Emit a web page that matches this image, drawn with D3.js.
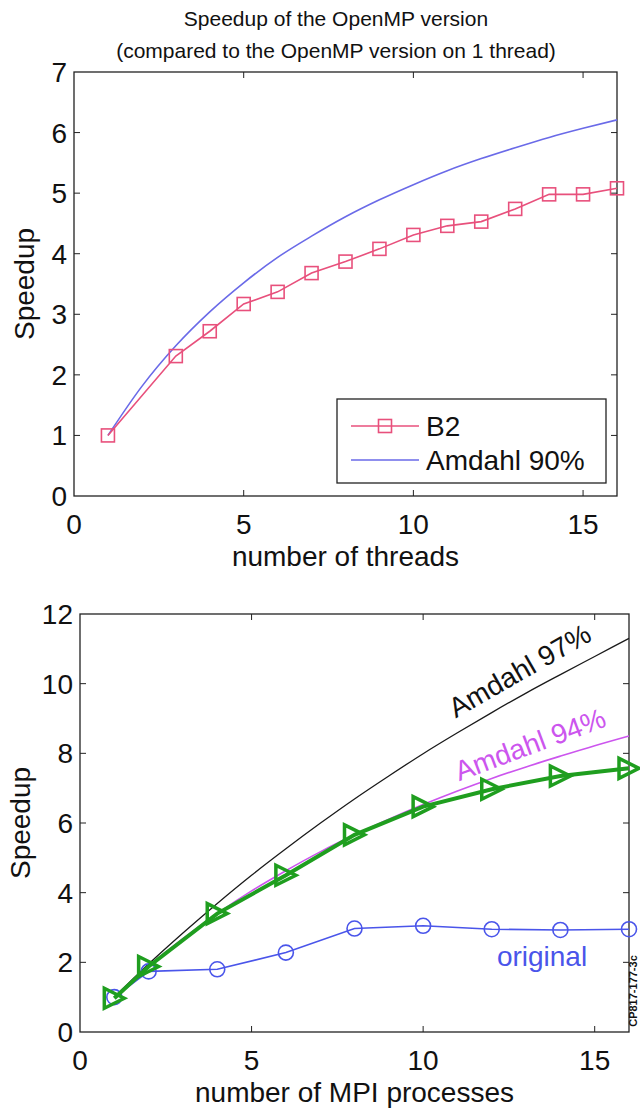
<!DOCTYPE html>
<html>
<head>
<meta charset="utf-8">
<script src="https://cdn.jsdelivr.net/npm/d3@7"></script>
<style>
  body { margin: 0; background: #fff; }
  svg { display: block; font-family: "Liberation Sans", Arial, sans-serif; }
  .frame { fill: none; stroke: #222; stroke-width: 1.3; }
  .tick-mark { stroke: #222; stroke-width: 1; }
</style>
</head>
<body>
<svg id="chart" width="640" height="1111" viewBox="0 0 640 1111"></svg>
<script>
// ---- top panel: OpenMP ----
const ompThreads = [1, 3, 4, 5, 6, 7, 8, 9, 10, 11, 12, 13, 14, 15, 16];
const ompB2 = [1.0, 2.31, 2.72, 3.17, 3.37, 3.68, 3.87, 4.08, 4.31, 4.46, 4.53, 4.74, 4.98, 4.98, 5.08];
const amdahl90N = [1, 2, 3, 4, 5, 6, 7, 8, 9, 10, 11, 12, 13, 14, 15, 16];
const amdahl90 = [1.0, 1.81, 2.48, 3.04, 3.52, 3.94, 4.29, 4.61, 4.89, 5.14, 5.37, 5.57, 5.75, 5.92, 6.07, 6.21];
const topXTicks = [0, 5, 10, 15];
const topYTicks = [0, 1, 2, 3, 4, 5, 6, 7];

// ---- bottom panel: MPI ----
const mpiProcs = [1, 2, 4, 6, 8, 10, 12, 14, 16];
const mpiNew = [0.97, 1.88, 3.4, 4.5, 5.66, 6.47, 6.97, 7.35, 7.57];
const mpiOriginal = [1.0, 1.74, 1.8, 2.28, 2.97, 3.05, 2.95, 2.93, 2.95];
const amdahlN = [1, 2, 3, 4, 5, 6, 7, 8, 9, 10, 11, 12, 13, 14, 15, 16];
const amdahl97 = [1.0, 1.95, 2.84, 3.69, 4.5, 5.26, 5.99, 6.69, 7.35, 7.99, 8.59, 9.17, 9.73, 10.26, 10.78, 11.3];
const amdahl94 = [1.0, 1.89, 2.68, 3.4, 4.05, 4.63, 5.17, 5.66, 6.11, 6.53, 6.92, 7.28, 7.61, 7.92, 8.22, 8.5];
const botXTicks = [0, 5, 10, 15];
const botYTicks = [0, 2, 4, 6, 8, 10, 12];

const svg = d3.select("#chart");

const drawFrame = (x, y, xTicks, yTicks, xTitle, yTitle, yTitleX) => {
  const [x0, x1] = x.range();
  const [y0, y1] = y.range();
  const g = svg.append("g");
  g.append("rect").attr("class", "frame")
    .attr("x", x0).attr("y", y1).attr("width", x1 - x0).attr("height", y0 - y1);
  const TL = 6;
  xTicks.filter((t) => t > 0).forEach((t) => {
    g.append("line").attr("class", "tick-mark")
      .attr("x1", x(t)).attr("x2", x(t)).attr("y1", y0).attr("y2", y0 - TL);
    g.append("line").attr("class", "tick-mark")
      .attr("x1", x(t)).attr("x2", x(t)).attr("y1", y1).attr("y2", y1 + TL);
  });
  yTicks.forEach((t) => {
    if (t === y.domain()[0] || t === y.domain()[1]) return;
    g.append("line").attr("class", "tick-mark")
      .attr("x1", x0).attr("x2", x0 + TL).attr("y1", y(t)).attr("y2", y(t));
    g.append("line").attr("class", "tick-mark")
      .attr("x1", x1).attr("x2", x1 - TL).attr("y1", y(t)).attr("y2", y(t));
  });
  g.selectAll("text.xt").data(xTicks).enter().append("text")
    .attr("x", (d) => x(d)).attr("y", y0 + 38)
    .attr("text-anchor", "middle").attr("font-size", 28).attr("fill", "#111")
    .text((d) => d);
  g.selectAll("text.yt").data(yTicks).enter().append("text")
    .attr("x", x0 - 7).attr("y", (d) => y(d) + 10)
    .attr("text-anchor", "end").attr("font-size", 28).attr("fill", "#111")
    .text((d) => d);
  g.append("text")
    .attr("x", (x0 + x1) / 2).attr("y", y0 + 70)
    .attr("text-anchor", "middle").attr("font-size", 28).attr("fill", "#111")
    .text(xTitle);
  g.append("text")
    .attr("transform", `translate(${yTitleX},${(y0 + y1) / 2}) rotate(-90)`)
    .attr("text-anchor", "middle").attr("font-size", 28).attr("fill", "#111")
    .text(yTitle);
};

// ================= TOP =================
const xTop = d3.scaleLinear().domain([0, 16]).range([74, 617]);
const yTop = d3.scaleLinear().domain([0, 7]).range([496, 72]);

svg.append("text").attr("x", 336).attr("y", 26).attr("text-anchor", "middle")
  .attr("font-size", 21).attr("fill", "#111").text("Speedup of the OpenMP version");
svg.append("text").attr("x", 336).attr("y", 58).attr("text-anchor", "middle")
  .attr("font-size", 21).attr("fill", "#111").text("(compared to the OpenMP version on 1 thread)");

drawFrame(xTop, yTop, topXTicks, topYTicks, "number of threads", "Speedup", 34);

const PINK = "#e8507c";
const LAVENDER = "#6a6ae8";

const smooth = (x, y) => d3.line().x((d) => x(d[0])).y((d) => y(d[1])).curve(d3.curveMonotoneX);
const straight = (x, y) => d3.line().x((d) => x(d[0])).y((d) => y(d[1]));

svg.append("path")
  .attr("d", smooth(xTop, yTop)(d3.zip(amdahl90N, amdahl90)))
  .attr("fill", "none").attr("stroke", LAVENDER).attr("stroke-width", 1.6);

svg.append("path")
  .attr("d", straight(xTop, yTop)(d3.zip(ompThreads, ompB2)))
  .attr("fill", "none").attr("stroke", PINK).attr("stroke-width", 1.6);

const SQ = 13;
svg.append("g").selectAll("rect").data(d3.zip(ompThreads, ompB2)).enter().append("rect")
  .attr("x", (d) => xTop(d[0]) - SQ / 2).attr("y", (d) => yTop(d[1]) - SQ / 2)
  .attr("width", SQ).attr("height", SQ)
  .attr("fill", "none").attr("stroke", PINK).attr("stroke-width", 1.6);

// legend
const leg = svg.append("g");
leg.append("rect").attr("x", 337).attr("y", 399).attr("width", 269).attr("height", 84)
  .attr("fill", "#fff").attr("stroke", "#222").attr("stroke-width", 1.3);
leg.append("line").attr("x1", 351).attr("x2", 419).attr("y1", 426).attr("y2", 426)
  .attr("stroke", PINK).attr("stroke-width", 1.6);
leg.append("rect").attr("x", 385 - SQ / 2).attr("y", 426 - SQ / 2).attr("width", SQ).attr("height", SQ)
  .attr("fill", "none").attr("stroke", PINK).attr("stroke-width", 1.6);
leg.append("text").attr("x", 426).attr("y", 436).attr("font-size", 28).attr("fill", "#111").text("B2");
leg.append("line").attr("x1", 351).attr("x2", 419).attr("y1", 460).attr("y2", 460)
  .attr("stroke", LAVENDER).attr("stroke-width", 1.6);
leg.append("text").attr("x", 426).attr("y", 470).attr("font-size", 28).attr("fill", "#111").text("Amdahl 90%");

// ================= BOTTOM =================
const xBot = d3.scaleLinear().domain([0, 16]).range([80, 629]);
const yBot = d3.scaleLinear().domain([0, 12]).range([1032, 614]);

drawFrame(xBot, yBot, botXTicks, botYTicks, "number of MPI processes", "Speedup", 30);

const BLACK = "#1a1a1a";
const MAGENTA = "#cc55ee";
const GREEN = "#1f9e1f";
const BLUE = "#4a55ea";

svg.append("path")
  .attr("d", smooth(xBot, yBot)(d3.zip(amdahlN, amdahl97)))
  .attr("fill", "none").attr("stroke", BLACK).attr("stroke-width", 1.3);
svg.append("path")
  .attr("d", smooth(xBot, yBot)(d3.zip(amdahlN, amdahl94)))
  .attr("fill", "none").attr("stroke", MAGENTA).attr("stroke-width", 1.6);

svg.append("path")
  .attr("d", straight(xBot, yBot)(d3.zip(mpiProcs, mpiOriginal)))
  .attr("fill", "none").attr("stroke", BLUE).attr("stroke-width", 1.6);
svg.append("g").selectAll("circle").data(d3.zip(mpiProcs, mpiOriginal)).enter().append("circle")
  .attr("cx", (d) => xBot(d[0])).attr("cy", (d) => yBot(d[1])).attr("r", 7.5)
  .attr("fill", "none").attr("stroke", BLUE).attr("stroke-width", 1.6);

svg.append("path")
  .attr("d", straight(xBot, yBot)(d3.zip(mpiProcs, mpiNew)))
  .attr("fill", "none").attr("stroke", GREEN).attr("stroke-width", 4);
const TRI = 10;
svg.append("g").selectAll("path").data(d3.zip(mpiProcs, mpiNew)).enter().append("path")
  .attr("transform", (d) => `translate(${xBot(d[0])},${yBot(d[1])})`)
  .attr("d", `M${TRI},0 L${-TRI},${-TRI} L${-TRI},${TRI} Z`)
  .attr("fill", "none").attr("stroke", GREEN).attr("stroke-width", 3.5).attr("stroke-linejoin", "miter");

// curve labels
const angle = (xs, ys, a, b) => {
  const dx = xs(b[0]) - xs(a[0]);
  const dy = ys(b[1]) - ys(a[1]);
  return (Math.atan2(dy, dx) * 180) / Math.PI;
};
const lbl97 = [10.95, 9.0];
const ang97 = angle(xBot, yBot, lbl97, [15.2, 11.4]);
svg.append("text")
  .attr("transform", `translate(${xBot(lbl97[0])},${yBot(lbl97[1])}) rotate(${ang97})`)
  .attr("font-size", 28).attr("fill", "#111").text("Amdahl 97%");
const lbl94 = [11.05, 7.2];
const ang94 = angle(xBot, yBot, lbl94, [15.6, 8.87]);
svg.append("text")
  .attr("transform", `translate(${xBot(lbl94[0])},${yBot(lbl94[1])}) rotate(${ang94})`)
  .attr("font-size", 28).attr("fill", MAGENTA).text("Amdahl 94%");
svg.append("text")
  .attr("x", xBot(12.15)).attr("y", yBot(1.9))
  .attr("font-size", 28).attr("fill", BLUE).text("original");

svg.append("text")
  .attr("transform", "translate(637,991) rotate(-90)")
  .attr("text-anchor", "middle").attr("font-size", 11).attr("font-weight", "bold")
  .attr("fill", "#111").text("CP817-177-3c");
</script>
</body>
</html>
